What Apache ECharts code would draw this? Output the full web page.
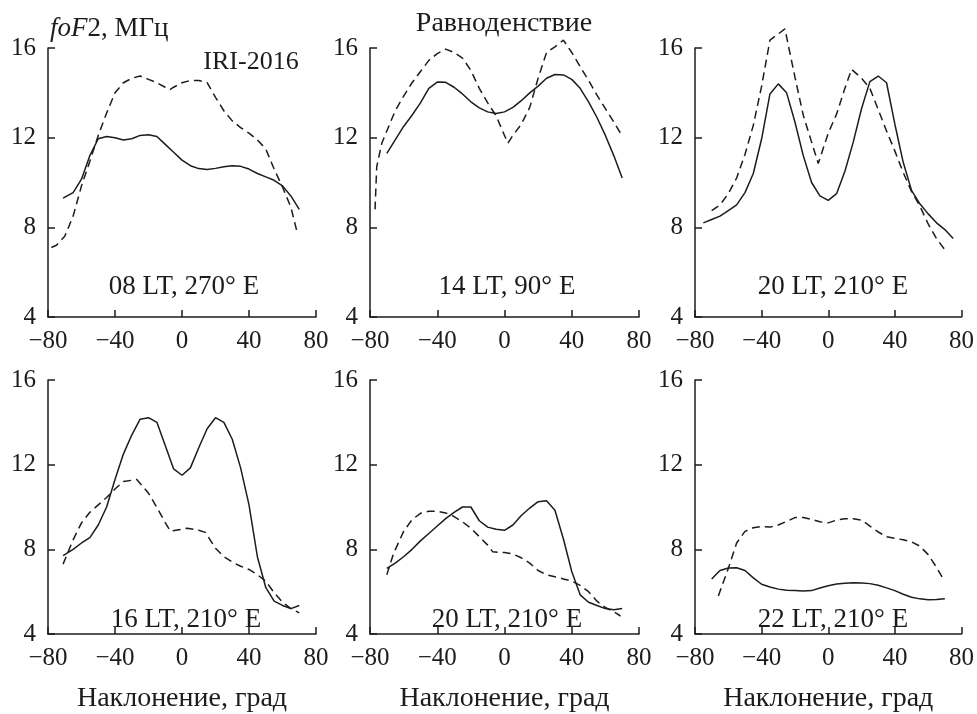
<!DOCTYPE html>
<html><head><meta charset="utf-8">
<script src="https://cdn.jsdelivr.net/npm/echarts@6/dist/echarts.min.js"></script>
<style>html,body{margin:0;padding:0;background:#fff}#c{width:977px;height:714px}</style>
</head><body><div id="c"></div>
<script>
// ---- data ----
const xTicks = [-80, -40, 0, 40, 80];
const yTicks = [4, 8, 12, 16];
const panelLabels = ['08 LT, 270° E', '14 LT, 90° E', '20 LT, 210° E', '16 LT, 210° E', '20 LT, 210° E', '22 LT, 210° E'];
const yAxisTitle = ['foF', '2, МГц'];
const xAxisTitle = 'Наклонение, град';
const modelLabel = 'IRI-2016';
const seasonLabel = 'Равноденствие';

const step5_70 = [-70,-65,-60,-55,-50,-45,-40,-35,-30,-25,-20,-15,-10,-5,0,5,10,15,20,25,30,35,40,45,50,55,60,65,70];

// panel 1 (08 LT, 270E)
const p1SolidLat = [-71,-65,-60,-55,-50,-45,-40,-35,-30,-25,-20,-15,-10,-5,0,5,10,15,20,25,30,35,40,45,50,55,60,65,70];
const p1SolidVal = [9.3,9.55,10.15,11.2,11.95,12.05,12.0,11.9,11.95,12.1,12.13,12.05,11.7,11.35,11.0,10.75,10.62,10.58,10.63,10.7,10.75,10.72,10.6,10.4,10.25,10.1,9.85,9.4,8.8];
const p1DashLat = [-78,-75,-70,-65,-60,-55,-50,-45,-40,-35,-30,-25,-20,-15,-10,-7,-5,0,5,10,15,20,25,30,35,40,45,50,55,60,65,69];
const p1DashVal = [7.1,7.2,7.6,8.5,9.85,10.95,12.1,13.1,14.0,14.45,14.65,14.75,14.6,14.45,14.25,14.15,14.25,14.45,14.55,14.55,14.45,13.8,13.2,12.75,12.45,12.2,11.9,11.5,10.6,9.8,8.9,7.7];

// panel 2 (14 LT, 90E)
const p2SolidLat = step5_70;
const p2SolidVal = [11.3,11.9,12.5,13.0,13.55,14.2,14.48,14.47,14.25,13.95,13.6,13.33,13.15,13.08,13.15,13.35,13.65,14.0,14.3,14.65,14.82,14.8,14.6,14.2,13.6,12.9,12.1,11.2,10.2];
const p2DashLat = [-77,-76,-73,-70,-65,-60,-55,-50,-45,-40,-35,-30,-25,-20,-15,-10,-5,0,2,5,10,15,20,25,30,35,40,45,50,55,60,65,69];
const p2DashVal = [8.8,10.7,11.75,12.3,13.2,13.85,14.45,14.95,15.45,15.75,15.95,15.8,15.55,15.0,14.2,13.55,12.98,12.1,11.75,12.1,12.6,13.35,14.65,15.8,16.05,16.35,15.8,15.17,14.55,13.9,13.3,12.7,12.2];

// panel 3 (20 LT, 210E)
const p3SolidLat = [-75,-70,-65,-60,-55,-50,-45,-40,-35,-30,-25,-20,-15,-10,-5,0,5,10,15,20,25,30,35,40,45,50,55,60,65,70,75];
const p3SolidVal = [8.2,8.35,8.5,8.75,9.0,9.55,10.4,11.95,13.95,14.4,14.0,12.7,11.2,10.0,9.4,9.2,9.5,10.5,11.8,13.3,14.5,14.75,14.45,12.6,10.9,9.65,9.05,8.6,8.2,7.9,7.5];
const p3DashLat = [-70,-65,-60,-55,-50,-45,-40,-35,-26,-20,-15,-10,-6,0,5,10,14,20,25,30,35,40,45,50,55,60,65,70];
const p3DashVal = [8.75,9.0,9.5,10.2,11.25,12.55,14.3,16.35,16.85,14.7,13.0,11.8,10.85,12.2,13.05,14.2,15.05,14.65,14.2,13.25,12.3,11.4,10.45,9.6,8.95,8.15,7.5,7.0];

// panel 4 (16 LT, 210E)
const p4SolidLat = [-71,-65,-60,-55,-50,-45,-40,-35,-30,-25,-20,-15,-10,-5,0,5,10,15,20,25,30,35,40,45,50,55,60,65,70];
const p4SolidVal = [7.7,8.0,8.3,8.55,9.15,10.0,11.3,12.5,13.4,14.15,14.22,14.0,12.9,11.8,11.5,11.85,12.8,13.7,14.22,14.0,13.2,11.85,10.1,7.65,6.2,5.55,5.35,5.2,5.35];
const p4DashLat = [-71,-65,-60,-55,-50,-45,-40,-35,-27,-20,-15,-10,-7,0,3,10,14,20,25,30,35,40,45,50,55,60,65,70];
const p4DashVal = [7.3,8.45,9.25,9.75,10.1,10.45,10.85,11.2,11.3,10.65,9.98,9.26,8.86,8.95,9.0,8.9,8.8,8.05,7.65,7.4,7.2,7.05,6.8,6.5,5.95,5.5,5.2,5.0];

// panel 5 (20 LT, 210E)
const p5SolidLat = step5_70;
const p5SolidVal = [7.1,7.35,7.65,8.0,8.4,8.75,9.1,9.45,9.75,10.0,10.0,9.35,9.05,8.95,8.9,9.15,9.6,9.95,10.25,10.3,9.85,8.5,6.95,5.85,5.5,5.35,5.2,5.15,5.2];
const p5DashLat = [-70,-66,-60,-55,-50,-45,-40,-35,-30,-25,-20,-15,-10,-7,0,5,10,15,20,25,30,35,40,45,50,55,60,65,69];
const p5DashVal = [6.8,7.8,8.85,9.4,9.7,9.8,9.8,9.72,9.55,9.3,9.0,8.6,8.2,7.88,7.85,7.78,7.6,7.35,7.0,6.8,6.7,6.6,6.5,6.3,6.0,5.55,5.25,5.05,4.85];

// panel 6 (22 LT, 210E)
const p6SolidLat = step5_70;
const p6SolidVal = [6.6,7.0,7.12,7.13,7.0,6.65,6.35,6.22,6.12,6.07,6.05,6.03,6.05,6.17,6.28,6.36,6.4,6.42,6.41,6.38,6.3,6.18,6.05,5.88,5.74,5.66,5.62,5.63,5.66];
const p6DashLat = [-66,-60,-55,-50,-45,-40,-35,-30,-25,-20,-15,-10,-5,0,5,10,15,20,25,30,35,40,45,50,55,60,65,69];
const p6DashVal = [5.8,7.1,8.3,8.85,9.02,9.08,9.05,9.15,9.32,9.5,9.5,9.42,9.3,9.25,9.38,9.45,9.45,9.38,9.1,8.82,8.6,8.52,8.45,8.35,8.15,7.75,7.15,6.6];

// ---- chart ----
const panels = [
  [p1SolidLat, p1SolidVal, p1DashLat, p1DashVal],
  [p2SolidLat, p2SolidVal, p2DashLat, p2DashVal],
  [p3SolidLat, p3SolidVal, p3DashLat, p3DashVal],
  [p4SolidLat, p4SolidVal, p4DashLat, p4DashVal],
  [p5SolidLat, p5SolidVal, p5DashLat, p5DashVal],
  [p6SolidLat, p6SolidVal, p6DashLat, p6DashVal]
];
const zip = (a, b) => a.map((x, i) => [x, b[i]]);
const INK = '#1c1c1c';
const FONT = 'Liberation Serif, Times New Roman, serif';

const gridPos = [
  {left: 48, top: 48, width: 268, height: 269},
  {left: 370, top: 48, width: 269, height: 269},
  {left: 695, top: 48, width: 268, height: 269},
  {left: 48, top: 380, width: 268, height: 269},
  {left: 370, top: 380, width: 269, height: 269},
  {left: 695, top: 380, width: 268, height: 269}
];
const labelPos = [[184, 287], [507, 287], [833, 287], [186, 620], [507, 620], [833, 620]];

const grid = [], xAxis = [], yAxis = [], series = [];
gridPos.forEach((g, i) => {
  grid.push(Object.assign({containLabel: false}, g));
  xAxis.push({
    type: 'value', gridIndex: i, min: xTicks[0], max: xTicks[xTicks.length - 1],
    interval: xTicks[1] - xTicks[0],
    axisLine: {show: true, onZero: false, lineStyle: {color: INK, width: 1.5}},
    axisTick: {show: true, inside: true, length: 7, lineStyle: {color: INK, width: 1.5}},
    splitLine: {show: false},
    axisLabel: {color: INK, fontFamily: FONT, fontSize: 25, margin: 12,
      formatter: v => (v < 0 ? '\u2212' + Math.abs(v) : String(v))},
    name: i >= 3 ? xAxisTitle : '', nameLocation: 'middle', nameGap: 51,
    nameTextStyle: {color: INK, fontFamily: FONT, fontSize: 28}
  });
  yAxis.push({
    type: 'value', gridIndex: i, min: yTicks[0], max: yTicks[yTicks.length - 1],
    interval: yTicks[1] - yTicks[0],
    axisLine: {show: true, onZero: false, lineStyle: {color: INK, width: 1.5}},
    axisTick: {show: true, inside: true, length: 7, lineStyle: {color: INK, width: 1.5}},
    splitLine: {show: false},
    axisLabel: {color: INK, fontFamily: FONT, fontSize: 25, margin: 12}
  });
  const p = panels[i];
  series.push({
    type: 'line', xAxisIndex: i, yAxisIndex: i, data: zip(p[0], p[1]),
    symbol: 'none', clip: false, smooth: false,
    lineStyle: {color: INK, width: 1.5, type: 'solid'}
  });
  series.push({
    type: 'line', xAxisIndex: i, yAxisIndex: i, data: zip(p[2], p[3]),
    symbol: 'none', clip: false, smooth: false,
    lineStyle: {color: INK, width: 1.5, type: [8, 5]}
  });
});

const graphic = panelLabels.map((t, i) => ({
  type: 'text', x: labelPos[i][0], y: labelPos[i][1],
  style: {text: t, fill: INK, font: '27px ' + FONT, align: 'center', verticalAlign: 'middle'}
}));
graphic.push({
  type: 'text', x: 251, y: 62,
  style: {text: modelLabel, fill: INK, font: '26px ' + FONT, align: 'center', verticalAlign: 'middle'}
});
graphic.push({
  type: 'text', x: 504, y: 24,
  style: {text: seasonLabel, fill: INK, font: '28px ' + FONT, align: 'center', verticalAlign: 'middle'}
});
graphic.push({
  type: 'text', x: 50, y: 29,
  style: {
    text: '{i|' + yAxisTitle[0] + '}{n|' + yAxisTitle[1] + '}',
    align: 'left', verticalAlign: 'middle',
    rich: {
      i: {fontStyle: 'italic', fontFamily: FONT, fontSize: 27, fill: INK, color: INK},
      n: {fontFamily: FONT, fontSize: 27, fill: INK, color: INK}
    }
  }
});

const chart = echarts.init(document.getElementById('c'), null, {renderer: 'canvas'});
chart.setOption({animation: false, backgroundColor: '#fff', grid, xAxis, yAxis, series, graphic});
</script></body></html>
